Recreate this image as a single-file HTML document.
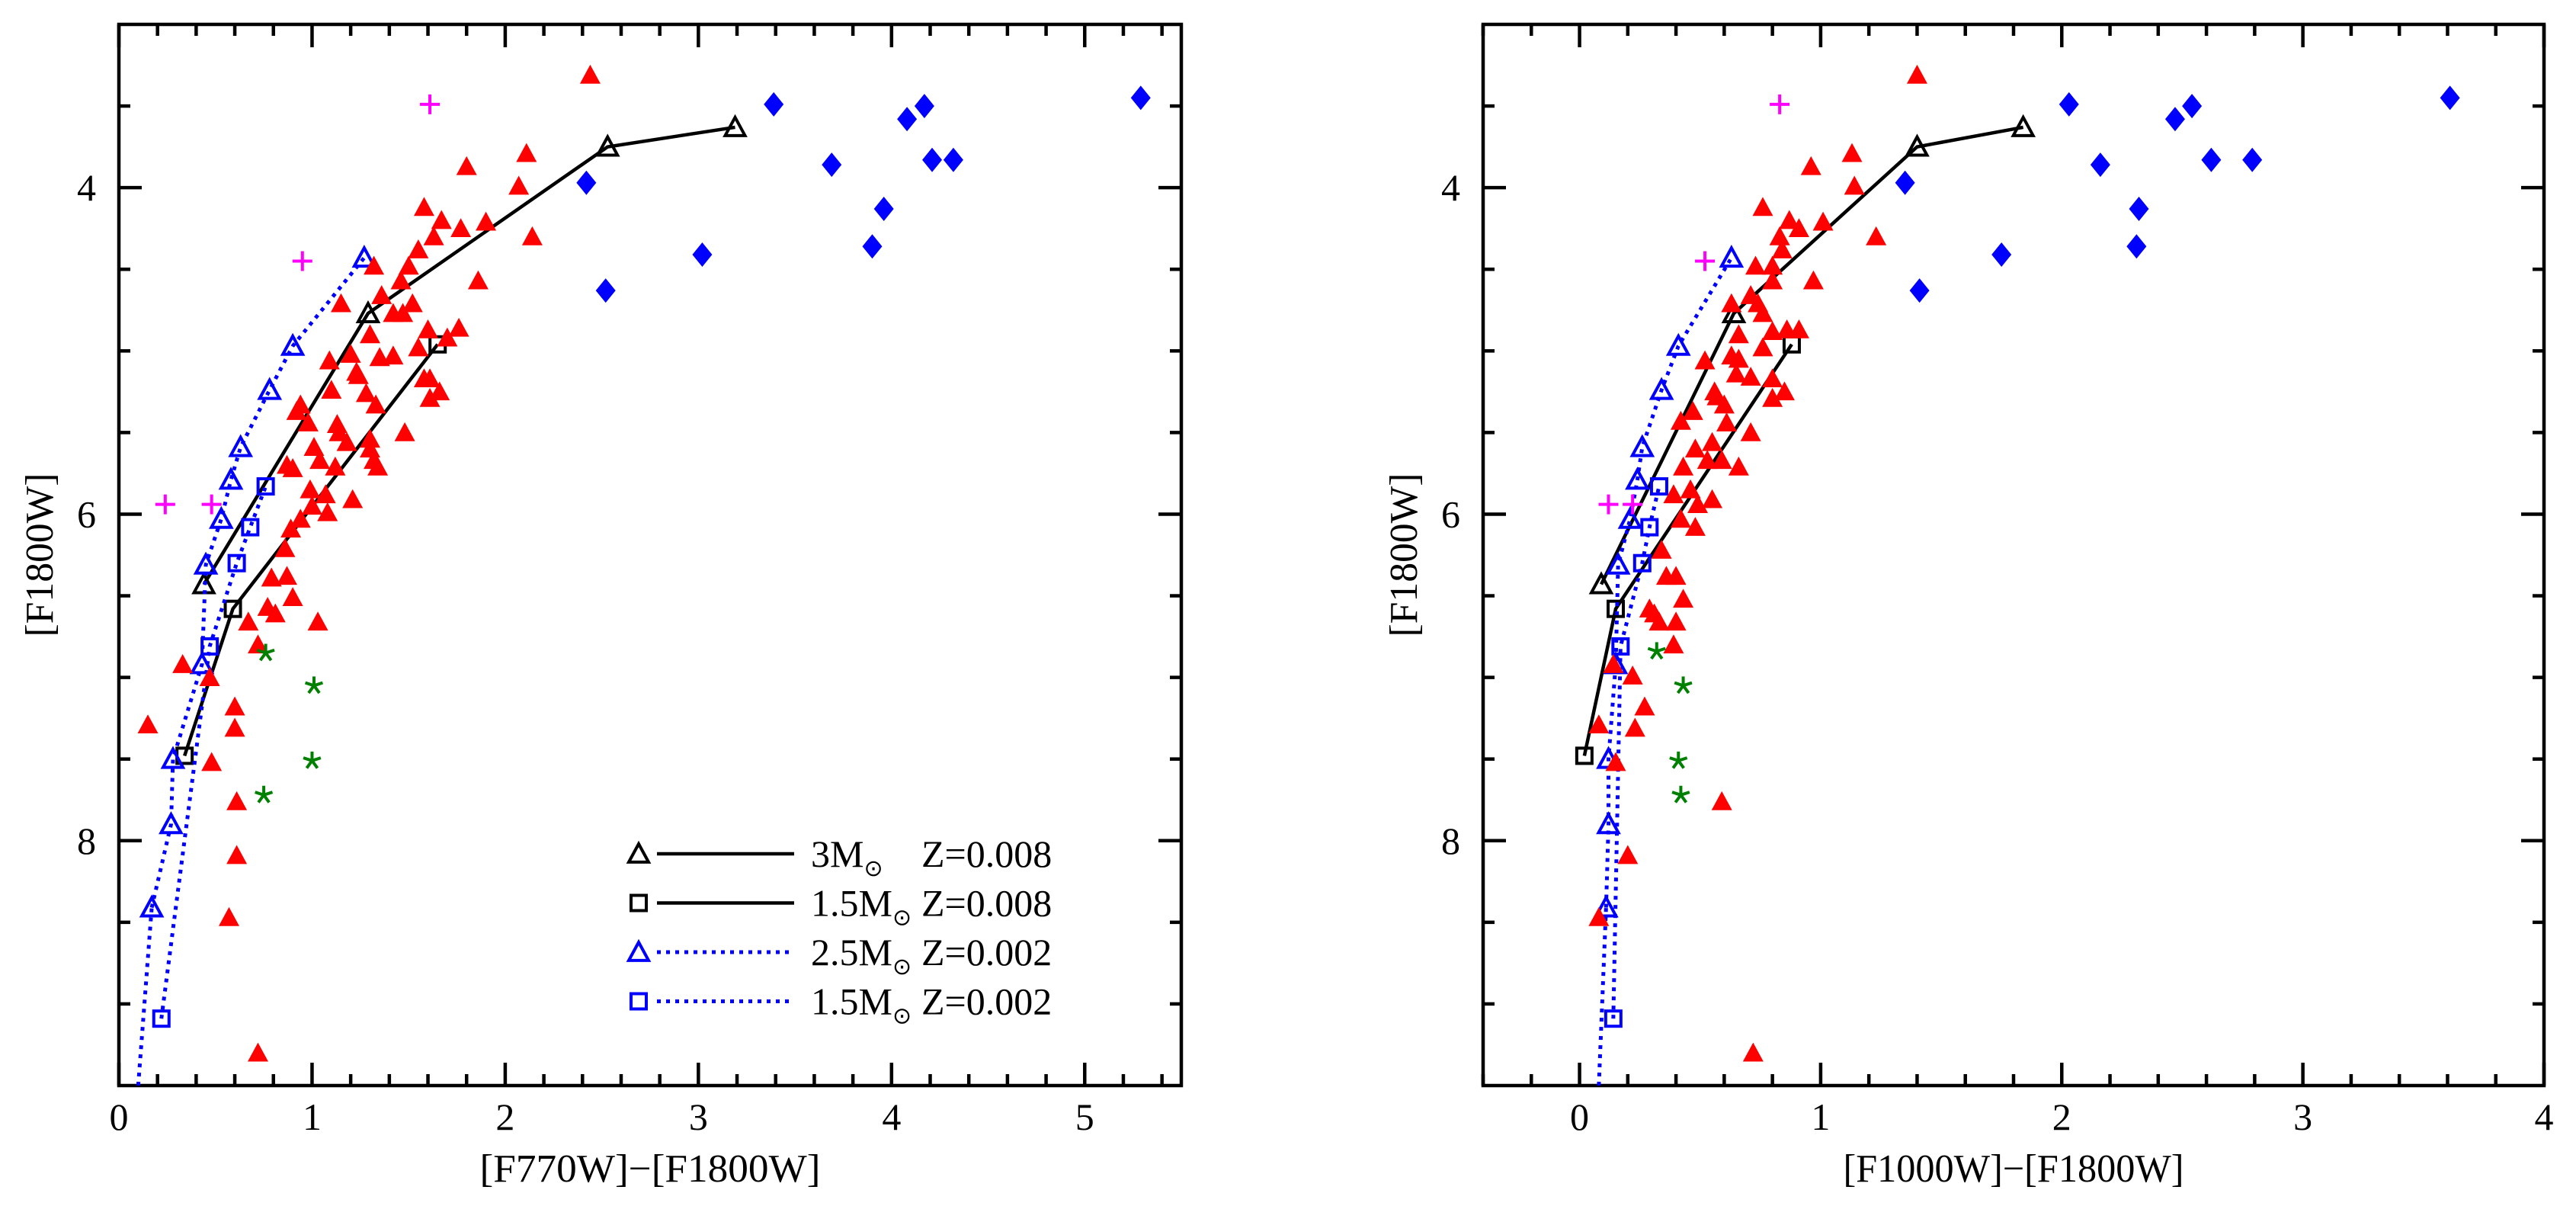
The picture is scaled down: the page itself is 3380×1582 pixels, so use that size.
<!DOCTYPE html>
<html><head><meta charset="utf-8"><style>
html,body{margin:0;padding:0;background:#fff;}
svg{display:block;}
text{font-family:"Liberation Serif",serif;fill:#000;}
</style></head><body>
<svg id="fig" width="3380" height="1582" viewBox="0 0 3380 1582" xmlns="http://www.w3.org/2000/svg"></svg>
<script>
// ---------- DATA ----------
const p1RedX=[2.44,1.80,2.11,2.07,1.58,1.67,1.77,1.90,2.14,1.63,1.55,1.50,1.32,1.46,1.86,1.36,1.15,1.52,1.42,1.47,1.30,1.60,1.70,1.76,1.55,1.20,1.35,1.09,1.42,1.23,1.24,1.10,1.58,1.61,1.66,1.28,1.33,0.94,0.92,1.61,0.98,1.13,1.14,1.01,1.18,1.30,1.48,1.30,1.32,1.34,1.04,0.87,0.90,1.12,0.99,1.07,1.21,1.00,1.08,0.94,0.89,0.86,0.87,0.79,0.90,0.77,0.81,0.67,1.03,0.72,0.33,0.47,0.60,0.15,0.60,0.48,0.61,0.61,0.57,0.72];
const p1RedY=[3.31,3.87,3.79,3.99,4.12,4.20,4.25,4.21,4.30,4.30,4.38,4.48,4.48,4.57,4.57,4.66,4.71,4.71,4.77,4.77,4.90,4.87,4.92,4.86,4.98,5.02,5.04,5.06,5.03,5.13,5.15,5.24,5.17,5.17,5.25,5.26,5.33,5.33,5.37,5.29,5.44,5.45,5.50,5.59,5.56,5.54,5.50,5.60,5.67,5.71,5.67,5.70,5.72,5.71,5.85,5.88,5.91,5.95,5.99,6.03,6.09,6.21,6.38,6.39,6.51,6.57,6.61,6.66,6.66,6.80,6.92,7.00,7.18,7.29,7.31,7.52,7.76,8.09,8.47,9.30];
const p1BlueX=[3.39,4.08,4.17,5.29,3.69,4.21,4.32,2.42,3.96,3.90,3.02,2.52];
const p1BlueY=[3.49,3.58,3.50,3.45,3.86,3.83,3.83,3.97,4.13,4.36,4.41,4.63];
const p1PlusX=[1.61,0.95,0.24,0.48];
const p1PlusY=[3.49,4.45,5.94,5.94];
const p1StarX=[0.76,1.01,1.00,0.75];
const p1StarY=[6.85,7.05,7.51,7.72];
const p1Tri3X=[0.44,1.29,2.53,3.19];
const p1Tri3Y=[6.43,4.77,3.75,3.63];
const p1Sq15X=[0.34,0.59,1.65];
const p1Sq15Y=[7.48,6.58,4.96];
const p1Tri25X=[0.17,0.27,0.28,0.43,0.45,0.53,0.58,0.63,0.78,0.90,1.27];
const p1Tri25Y=[8.41,7.90,7.50,6.92,6.31,6.03,5.79,5.59,5.24,4.97,4.43];
const p1Tri25TailX=[0.10,0.17];
const p1Tri25TailY=[9.50,8.41];
const p1SqLowX=[0.22,0.47,0.61,0.68,0.76];
const p1SqLowY=[9.09,6.81,6.30,6.08,5.83];

const p2RedX=[1.40,1.13,0.96,1.14,0.76,1.01,0.87,0.91,1.23,0.83,0.84,0.73,0.80,0.80,0.97,0.71,0.74,0.63,0.76,0.66,0.80,0.86,0.91,0.76,0.52,0.63,0.66,0.65,0.71,0.80,0.85,0.80,0.56,0.57,0.60,0.47,0.42,0.71,0.61,0.55,0.48,0.59,0.66,0.43,0.53,0.46,0.39,0.55,0.49,0.42,0.48,0.34,0.36,0.40,0.43,0.29,0.31,0.33,0.40,0.39,0.14,0.22,0.27,0.08,0.23,0.15,0.59,0.20,0.08,0.72];
const p2RedY=[3.31,3.79,3.87,3.99,4.12,4.21,4.20,4.25,4.30,4.30,4.38,4.48,4.48,4.57,4.57,4.66,4.71,4.71,4.77,4.90,4.88,4.87,4.87,4.98,5.06,5.03,5.05,5.14,5.16,5.17,5.25,5.29,5.25,5.28,5.33,5.37,5.43,5.50,5.44,5.56,5.60,5.67,5.71,5.71,5.67,5.85,5.88,5.91,5.94,6.03,6.08,6.22,6.38,6.38,6.52,6.58,6.61,6.66,6.66,6.80,6.92,6.99,7.18,7.29,7.31,7.52,7.76,8.09,8.47,9.30];
const p2BlueX=[2.03,2.47,2.54,3.61,2.16,2.62,2.79,1.35,2.32,2.31,1.75,1.41];
const p2BlueY=[3.49,3.58,3.50,3.45,3.86,3.83,3.83,3.97,4.13,4.36,4.41,4.63];
const p2PlusX=[0.83,0.52,0.12,0.22];
const p2PlusY=[3.49,4.45,5.94,5.94];
const p2StarX=[0.32,0.43,0.41,0.42];
const p2StarY=[6.84,7.05,7.51,7.72];
const p2Tri3X=[0.09,0.64,1.40,1.84];
const p2Tri3Y=[6.43,4.77,3.75,3.63];
const p2Sq15X=[0.02,0.15,0.88];
const p2Sq15Y=[7.48,6.58,4.96];
const p2Tri25X=[0.11,0.12,0.12,0.15,0.16,0.21,0.24,0.26,0.34,0.41,0.63];
const p2Tri25Y=[8.41,7.90,7.50,6.92,6.31,6.03,5.79,5.59,5.24,4.97,4.43];
const p2Tri25TailX=[0.08,0.11];
const p2Tri25TailY=[9.50,8.41];
const p2SqLowX=[0.14,0.17,0.26,0.29,0.33];
const p2SqLowY=[9.09,6.81,6.30,6.08,5.83];

const p1XTicks=[0,1,2,3,4,5];
const p2XTicks=[0,1,2,3,4];
const yTicks=[4,6,8];
const legendMass=["3","1.5","2.5","1.5"];
const legendZ=["0.008","0.008","0.002","0.002"];

// ---------- DRAWING ----------
const NS="http://www.w3.org/2000/svg";
const svg=document.getElementById('fig');
function mk(tag,attrs,parent){const e=document.createElementNS(NS,tag);for(const k in attrs)e.setAttribute(k,attrs[k]);(parent||svg).appendChild(e);return e;}

function panel(name,L,R,xmin,xmax,xTicks,xTitle,yTitleX){
  const T=32,B=1424,ymin=3,ymax=9.5;
  const sx=v=>L+(v-xmin)/(xmax-xmin)*(R-L);
  const sy=v=>T+(v-ymin)/(ymax-ymin)*(B-T);
  const g=mk('g',{});
  
  
  const frame=mk('rect',{x:L,y:T,width:R-L,height:B-T,fill:'none',stroke:'#000','stroke-width':4.5},g);
  
  
  const tk=mk('g',{stroke:'#000','stroke-width':4.5},g);
  
  
  for(let v=Math.ceil(xmin*5-1e-6)/5; v<=xmax+1e-6; v+=0.2){
    const major=Math.abs(v-Math.round(v))<1e-6; const len=major?30:15; const x=sx(v);
    mk('line',{x1:x,y1:B,x2:x,y2:B-len},tk); mk('line',{x1:x,y1:T,x2:x,y2:T+len},tk);
  }
  for(let v=3.5; v<9.5; v+=0.5){
    const major=Math.abs(v-Math.round(v))<1e-6 && Math.round(v)%2===0; const len=major?30:15; const y=sy(v);
    mk('line',{x1:L,y1:y,x2:L+len,y2:y},tk); mk('line',{x1:R,y1:y,x2:R-len,y2:y},tk);
  }
  xTicks.forEach(v=>{const t=mk('text',{x:sx(v),y:B+58,'font-size':50,'text-anchor':'middle'},g);t.textContent=String(v);
    
    });
  yTicks.forEach(v=>{const t=mk('text',{x:L-30,y:sy(v)+17,'font-size':50,'text-anchor':'end'},g);t.textContent=String(v);
    
    });
  const xt=mk('text',{x:(L+R)/2,y:1550,'font-size':52,'text-anchor':'middle',textLength:447,lengthAdjust:'spacingAndGlyphs'},g);
  xt.textContent=xTitle;
  
  
  const yt=mk('text',{x:0,y:0,'font-size':52,'text-anchor':'middle',textLength:215,lengthAdjust:'spacingAndGlyphs',transform:`translate(${yTitleX+18},728) rotate(-90)`},g);
  yt.textContent='[F1800W]';
  
  
  return {g,sx,sy};
}

function triPts(x,y,s){return `${x-s/2},${y+s*0.42} ${x+s/2},${y+s*0.42} ${x},${y-s*0.5}`;}
function drawMarker(par,type,x,y,color){
  let e;
  if(type==='ftri') e=mk('polygon',{points:triPts(x,y,27),fill:color},par);
  else if(type==='diamond') e=mk('polygon',{points:`${x},${y-16} ${x+13},${y} ${x},${y+16} ${x-13},${y}`,fill:color},par);
  else if(type==='otri') e=mk('polygon',{points:triPts(x,y,26),fill:'none',stroke:color,'stroke-width':4},par);
  else if(type==='osq') e=mk('rect',{x:x-10,y:y-10,width:20,height:20,fill:'none',stroke:color,'stroke-width':4},par);
  else if(type==='plus'){e=mk('path',{d:`M${x-13},${y}H${x+13}M${x},${y-13}V${y+13}`,stroke:color,'stroke-width':4,fill:'none'},par);}
  else if(type==='star'){let d='';for(let k=0;k<5;k++){const a=-Math.PI/2+k*2*Math.PI/5;d+=`M${x},${y}L${x+12*Math.cos(a)},${y+12*Math.sin(a)}`;}
    e=mk('path',{d:d,stroke:color,'stroke-width':4,fill:'none'},par);}
  return e;
}
function scatter(P,xs,ys,type,color,nm){
  const grp=mk('g',{},P.g);
  
  
  xs.forEach((v,i)=>{const m=drawMarker(grp,type,P.sx(v),P.sy(ys[i]),color);
    
    });
}
function track(P,xs,ys,color,dotted,mtype,nm,markers){
  const pts=xs.map((v,i)=>P.sx(v)+','+P.sy(ys[i])).join(' ');
  const pl=mk('polyline',{points:pts,fill:'none',stroke:color,'stroke-width':dotted?5:4.5,'stroke-dasharray':dotted?'5 7':'none'},P.g);
  
  
  if(markers!==false) scatter(P,xs,ys,mtype,color,nm);
}

function fillPanel(P,d){
  track(P,d.tri3x,d.tri3y,'#000',false,'otri','track-3msun-z008');
  track(P,d.sq15x,d.sq15y,'#000',false,'osq','track-1p5msun-z008');
  track(P,d.tailx,d.taily,'#0000ff',true,'otri','track-2p5msun-z002-tail',false);
  track(P,d.tri25x,d.tri25y,'#0000ff',true,'otri','track-2p5msun-z002');
  track(P,d.sqlx,d.sqly,'#0000ff',true,'osq','track-1p5msun-z002');
  scatter(P,d.redx,d.redy,'ftri','#ff0000','red-triangles');
  scatter(P,d.bluex,d.bluey,'diamond','#0000ff','blue-diamonds');
  scatter(P,d.plusx,d.plusy,'plus','#ff00ff','magenta-crosses');
  scatter(P,d.starx,d.stary,'star','#008000','green-stars');
}

const P1=panel('left-panel',156,1550,0,5.5,p1XTicks,'[F770W]\u2212[F1800W]',51);
fillPanel(P1,{tri3x:p1Tri3X,tri3y:p1Tri3Y,sq15x:p1Sq15X,sq15y:p1Sq15Y,tailx:p1Tri25TailX,taily:p1Tri25TailY,tri25x:p1Tri25X,tri25y:p1Tri25Y,sqlx:p1SqLowX,sqly:p1SqLowY,redx:p1RedX,redy:p1RedY,bluex:p1BlueX,bluey:p1BlueY,plusx:p1PlusX,plusy:p1PlusY,starx:p1StarX,stary:p1StarY});
const P2=panel('right-panel',1946,3338,-0.4,4,p2XTicks,'[F1000W]\u2212[F1800W]',1841);
fillPanel(P2,{tri3x:p2Tri3X,tri3y:p2Tri3Y,sq15x:p2Sq15X,sq15y:p2Sq15Y,tailx:p2Tri25TailX,taily:p2Tri25TailY,tri25x:p2Tri25X,tri25y:p2Tri25Y,sqlx:p2SqLowX,sqly:p2SqLowY,redx:p2RedX,redy:p2RedY,bluex:p2BlueX,bluey:p2BlueY,plusx:p2PlusX,plusy:p2PlusY,starx:p2StarX,stary:p2StarY});

// legend
const lg=mk('g',{});


const lgTypes=['otri','osq','otri','osq'];
const lgColors=['#000','#000','#0000ff','#0000ff'];
const lgDotted=[false,false,true,true];
legendMass.forEach((m,i)=>{
  const y=1120+i*64.5;
  const row=mk('g',{},lg);
  
  
  drawMarker(row,lgTypes[i],838,y,lgColors[i]);
  mk('line',{x1:862,y1:y,x2:1042,y2:y,stroke:lgColors[i],'stroke-width':lgDotted[i]?5:4.5,'stroke-dasharray':lgDotted[i]?'5 7':'none'},row);
  const t=mk('text',{x:1064,y:y+17,'font-size':50},row);
  const t1=mk('tspan',{},t); t1.textContent=m+'M';
  const t2=mk('tspan',{'font-size':30,dy:12},t); t2.textContent='\u2299';
  const t3=mk('text',{x:1209,y:y+17,'font-size':50},row); t3.textContent='Z='+legendZ[i];
});
</script>
</body></html>
